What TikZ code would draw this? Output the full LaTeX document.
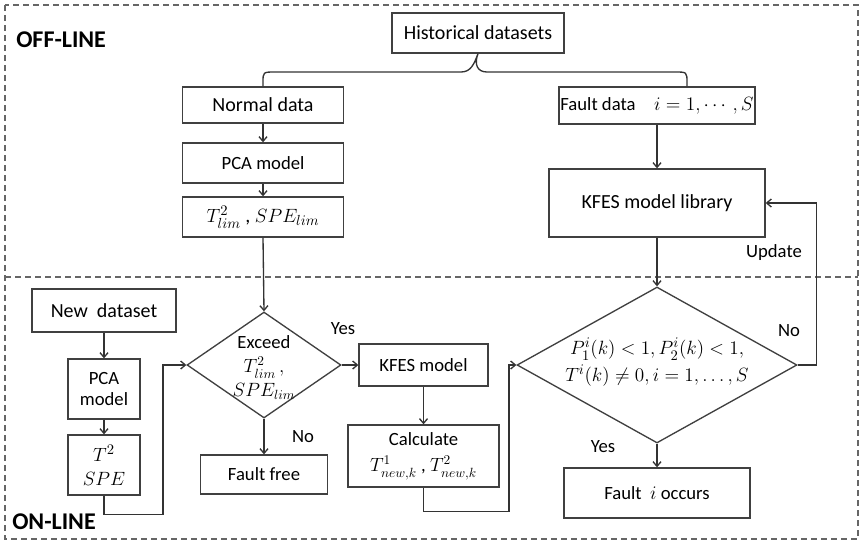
\documentclass[tikz,border=0pt]{standalone}
\usepackage{amsmath}
\usepackage{fontspec}
\setmainfont{Carlito}
\usetikzlibrary{shapes.geometric,arrows.meta,calc}
\newcommand{\fbig}{\fontsize{15}{17}\selectfont}
\newcommand{\fsml}{\fontsize{14}{16}\selectfont}
\newcommand{\fhead}{\fontsize{18}{20}\selectfont\bfseries}
\begin{document}
\begin{tikzpicture}[x=0.75pt,y=-0.75pt,
  ln/.style={draw=black!80, line width=1pt},
  arr/.style={ln, -{Straight Barb[length=3.5pt,width=6pt]}},
  box/.style={draw=black!75, line width=1pt, inner sep=0pt, align=center, font=\fsml, fill=white},
  dia/.style={draw=black!75, line width=1pt, diamond, inner sep=0pt, fill=white},
  lbl/.style={font=\fsml, inner sep=1pt},
  frame/.style={draw=black!60, line width=0.8pt, dash pattern=on 4.5pt off 3pt}]
\useasboundingbox (0,0) rectangle (862,543);
% frame
\draw[frame] (5,5) rectangle (858,539);
\draw[frame] (5,277) -- (858,277);
\node[font=\fhead, anchor=west, inner sep=0pt] (off) at (16,40) {OFF-LINE};
\node[font=\fhead, anchor=west, inner sep=0pt] (on) at (12,522) {ON-LINE};
% off-line nodes
\node[box, font=\fbig, minimum width=172*0.75pt, minimum height=40*0.75pt] (hist) at (478,33) {Historical datasets};
\node[box, font=\fbig, minimum width=161*0.75pt, minimum height=36*0.75pt] (normal) at (263,105) {Normal data};
\node[box, minimum width=161*0.75pt, minimum height=40*0.75pt] (pca) at (263,163) {PCA model};
\node[box, font=\fbig, minimum width=161*0.75pt, minimum height=40*0.75pt] (tlim) at (263,217) {$T_{lim}^{2}$ , $SPE_{lim}$};
\node[box, minimum width=196*0.75pt, minimum height=37*0.75pt] (fault) at (657,105.5) {Fault data\quad $i=1,\cdots,S$};
\node[box, font=\fbig, minimum width=216*0.75pt, minimum height=68*0.75pt] (lib) at (657,203) {KFES model library};
% on-line nodes
\node[box, font=\fbig, minimum width=144*0.75pt, minimum height=43*0.75pt] (newds) at (104,310.5) {New\ \ dataset};
\node[box, minimum width=72*0.75pt, minimum height=60*0.75pt] (pca2) at (104,389) {PCA\\model};
\node[box, font=\fbig, minimum width=72*0.75pt, minimum height=60*0.75pt] (tspe) at (104,465) {$T^{2}$\\[1pt]$SPE$};
\node[dia, minimum width=154*0.75pt, minimum height=106*0.75pt,
  label={[font=\fsml, align=center, yshift=-2pt]center:{Exceed\\[2pt]$T_{lim}^{2}\,,$\\[2pt]$SPE_{lim}$}}] (d1) at (264,365) {};
\node[box, minimum width=127*0.75pt, minimum height=39*0.75pt] (free) at (264,474.5) {Fault free};
\node[box, minimum width=129*0.75pt, minimum height=42*0.75pt] (kfes) at (423.5,365) {KFES model};
\node[box, minimum width=151*0.75pt, minimum height=62*0.75pt] (calc) at (423.5,456) {Calculate\\[4pt]$T_{new,k}^{1}$ , $T_{new,k}^{2}$};
\node[dia, minimum width=280*0.75pt, minimum height=156*0.75pt,
  label={[font=\fbig, align=center, yshift=2pt]center:{$P_1^{i}(k)<1,P_2^{i}(k)<1,$\\[3pt]$T^{i}(k)\neq0,i=1,\ldots,S$}}] (d2) at (657,365) {};
\node[box, minimum width=186*0.75pt, minimum height=50*0.75pt] (occurs) at (657,493) {Fault\ \ $i$ occurs};
% brace
\draw[ln] (normal.north) -- ++(0,-4) .. controls (263,72) .. (275,72) -- (461,72)
  .. controls (471,72) and (474,64) .. (hist.south)
  .. controls (474,64) and (477,72) .. (487,72) -- (675,72)
  .. controls (687,72) .. (687,83) -- (687,0 |- fault.north);
% off-line arrows
\draw[arr] (normal) -- (pca);
\draw[arr] (pca) -- (tlim);
\draw[arr] (tlim.south) -- (d1.north);
\draw[arr] (fault) -- (lib);
\draw[arr] (lib.south) -- (d2.north);
\draw[arr] (d2.east) -- ++(19,0) |- (lib.east);
\node[lbl] (upd) at (774,253) {Update};
\node[lbl] (no2) at (789,331) {No};
% on-line arrows
\draw[arr] (newds) -- (pca2);
\draw[arr] (pca2) -- (tspe);
\draw[arr] (tspe.south) -- ++(0,19) -| (163,365) -- (d1.west);
\draw[arr] (d1.east) -- (kfes.west);
\node[lbl] (yes1) at (343,329) {Yes};
\draw[arr] (d1.south) -- (free.north);
\node[lbl] (no1) at (303,437) {No};
\draw[arr] (kfes) -- (calc);
\draw[arr] (calc.south) -- ++(0,24) -| (509,365) -- (d2.west);
\draw[arr] (d2.south) -- (occurs.north);
\node[lbl] (yes2) at (603,447) {Yes};
\end{tikzpicture}
\end{document}
